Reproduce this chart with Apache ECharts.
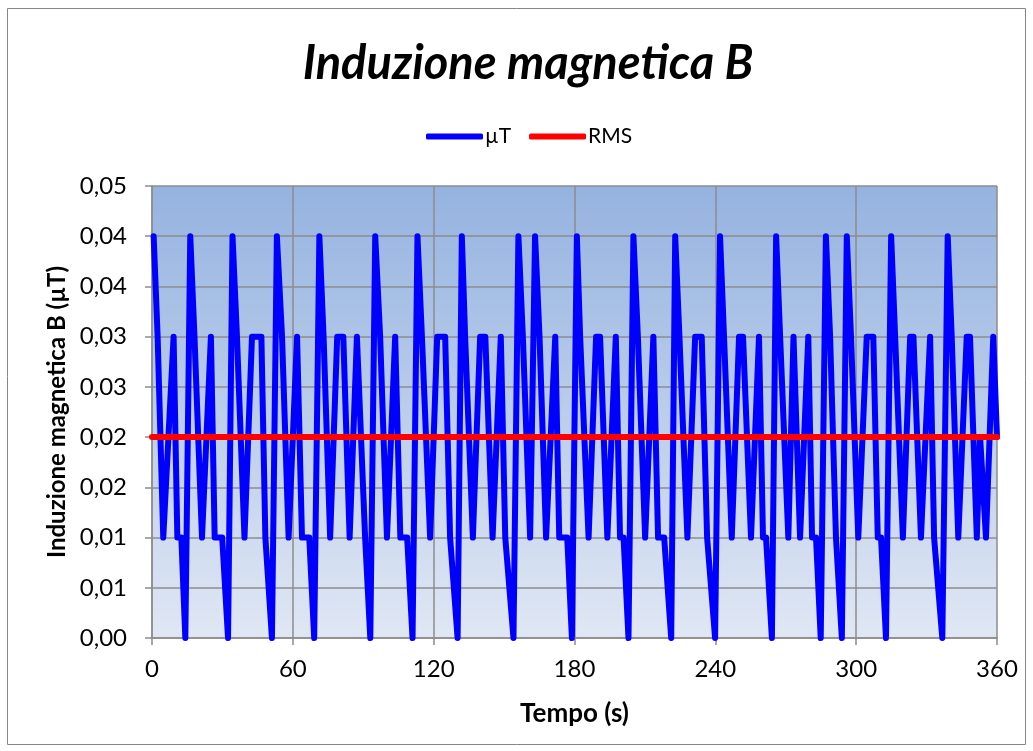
<!DOCTYPE html>
<html>
<head>
<meta charset="utf-8">
<script src="https://cdn.jsdelivr.net/npm/echarts@6/dist/echarts.min.js"></script>
<style>
html,body{margin:0;padding:0;background:#fff;}
#chart{width:1033px;height:751px;}
</style>
</head>
<body>
<div id="chart"></div>
<script>
// ---- data ----
const chartTitle = 'Induzione magnetica B';
const seriesNames = ['\u00b5T', 'RMS'];
const xTickLabels = ['0', '60', '120', '180', '240', '300', '360'];
const yTickLabels = ['0,00','0,01','0,01','0,02','0,02','0,03','0,03','0,04','0,04','0,05'];

// time (s) of each vertex of the blue trace
const times = [
  0.7, 2.4, 4.8, 9.2, 10.8, 12.5, 14.2, 16.3, 18.1, 21.3,
  25.1, 26.7, 29.9, 32.4, 34.3, 36.2, 39.4, 42.6, 46.6, 48.3,
  51.1, 53.2, 55.4, 58.2, 61.8, 63.9, 67.0, 69.1, 71.3, 73.1,
  75.9, 78.9, 81.5, 84.2, 87.3, 90.8, 93.0, 95.1, 97.2, 100.1,
  103.6, 105.8, 108.7, 111.0, 113.1, 115.0, 118.5, 121.5, 124.9, 127.0,
  130.2, 132.0, 133.4, 136.7, 139.8, 142.0, 145.1, 148.6, 150.5, 154.0,
  156.1, 158.0, 161.1, 163.2, 165.1, 167.9, 171.8, 173.5, 176.9, 178.9,
  181.0, 182.4, 186.0, 189.2, 190.9, 194.0, 197.6, 199.4, 200.9, 203.0,
  205.1, 207.0, 210.1, 213.6, 215.6, 218.2, 221.2, 222.9, 224.7, 228.1,
  231.4, 234.2, 236.5, 239.9, 242.0, 243.7, 247.0, 250.1, 251.8, 255.2,
  258.6, 260.3, 261.6, 264.1, 265.9, 267.6, 271.1, 273.3, 276.1, 279.6,
  281.2, 282.9, 284.9, 287.1, 288.9, 291.4, 293.9, 296.0, 297.8, 300.9,
  304.5, 307.3, 309.2, 310.6, 312.7, 314.9, 316.6, 319.9, 323.0, 324.4,
  327.6, 331.5, 333.2, 336.7, 339.0, 340.7, 343.5, 347.1, 348.5, 351.4,
  352.8, 355.3, 358.4, 360
];
// induction (µT) at each of those times
const microTesla = [
  0.04, 0.03, 0.01, 0.03, 0.01, 0.01, 0.00, 0.04, 0.03, 0.01,
  0.03, 0.01, 0.01, 0.00, 0.04, 0.03, 0.01, 0.03, 0.03, 0.01,
  0.00, 0.04, 0.03, 0.01, 0.03, 0.01, 0.01, 0.00, 0.04, 0.03,
  0.01, 0.03, 0.03, 0.01, 0.03, 0.01, 0.00, 0.04, 0.03, 0.01,
  0.03, 0.01, 0.01, 0.00, 0.04, 0.03, 0.01, 0.03, 0.03, 0.01,
  0.00, 0.04, 0.03, 0.01, 0.03, 0.03, 0.01, 0.03, 0.01, 0.00,
  0.04, 0.03, 0.01, 0.04, 0.03, 0.01, 0.03, 0.01, 0.01, 0.00,
  0.04, 0.03, 0.01, 0.03, 0.03, 0.01, 0.03, 0.01, 0.01, 0.00,
  0.04, 0.03, 0.01, 0.03, 0.01, 0.01, 0.00, 0.04, 0.03, 0.01,
  0.03, 0.03, 0.01, 0.00, 0.04, 0.03, 0.01, 0.03, 0.03, 0.01,
  0.03, 0.01, 0.01, 0.00, 0.04, 0.03, 0.01, 0.03, 0.01, 0.03,
  0.01, 0.01, 0.00, 0.04, 0.03, 0.01, 0.00, 0.04, 0.03, 0.01,
  0.03, 0.03, 0.01, 0.01, 0.00, 0.04, 0.03, 0.01, 0.03, 0.03,
  0.01, 0.03, 0.01, 0.00, 0.04, 0.03, 0.01, 0.03, 0.03, 0.01,
  0.02, 0.01, 0.03, 0.02
];
const rmsTimes = [0, 360];
const rmsValues = [0.02, 0.02];

// ---- chart ----
const FONT = 'Lato, "Open Sans", sans-serif';
const GRID_C = '#8C8C8C';
const chart = echarts.init(document.getElementById('chart'), null, {renderer: 'canvas'});

const blueData = times.map((t, i) => [t, microTesla[i]]);
const redData = rmsTimes.map((t, i) => [t, rmsValues[i]]);

chart.setOption({
  animation: false,
  backgroundColor: '#ffffff',
  graphic: [{
    type: 'rect',
    shape: {x: 7.5, y: 8.5, width: 1018, height: 736},
    style: {fill: 'none', stroke: '#868686', lineWidth: 1},
    silent: true, z: -10
  }],
  title: {
    text: chartTitle,
    left: 523, top: 35, textAlign: 'center',
    textStyle: {fontFamily: FONT, fontSize: 47, fontWeight: 'bold', fontStyle: 'italic', color: '#000'}
  },
  legend: {
    left: 421, top: 121,
    itemWidth: 57, itemHeight: 6, itemGap: 18,
    icon: 'roundRect',
    data: seriesNames,
    textStyle: {fontFamily: FONT, fontSize: 21, color: '#000', padding: [0, 0, 0, -3]}
  },
  grid: {
    left: 152, right: 36, top: 186, bottom: 113,
    show: true, borderWidth: 0,
    backgroundColor: {
      type: 'linear', x: 0, y: 0, x2: 0, y2: 1,
      colorStops: [
        {offset: 0, color: '#95B3E0'},
        {offset: 1, color: '#E0E7F4'}
      ]
    }
  },
  xAxis: {
    type: 'value', min: 0, max: 360, interval: 60,
    name: 'Tempo (s)', nameLocation: 'middle', nameGap: 63,
    nameTextStyle: {fontFamily: FONT, fontSize: 26, fontWeight: 'bold', color: '#000'},
    axisLine: {show: true, onZero: false, lineStyle: {color: GRID_C, width: 1.5}},
    axisTick: {show: true, length: 7, lineStyle: {color: GRID_C, width: 1.5}},
    axisLabel: {
      margin: 19, fontFamily: FONT, fontSize: 24, color: '#000',
      formatter: v => xTickLabels[Math.round(v / 60)]
    },
    splitLine: {show: true, lineStyle: {color: GRID_C, width: 1.5}}
  },
  yAxis: {
    type: 'value', min: 0, max: 0.045, interval: 0.005,
    name: 'Induzione magnetica B (\u00b5T)', nameLocation: 'middle', nameGap: 81,
    nameTextStyle: {fontFamily: FONT, fontSize: 24, fontWeight: 'bold', color: '#000'},
    axisLine: {show: true, lineStyle: {color: GRID_C, width: 1.5}},
    axisTick: {show: true, length: 7, lineStyle: {color: GRID_C, width: 1.5}},
    axisLabel: {
      margin: 25, fontFamily: FONT, fontSize: 24, color: '#000',
      formatter: v => yTickLabels[Math.round(v / 0.005)]
    },
    splitLine: {show: true, lineStyle: {color: GRID_C, width: 1.5}}
  },
  series: [
    {
      name: seriesNames[0], type: 'line', data: blueData,
      showSymbol: false, symbol: 'none', clip: false,
      color: '#0000FF',
      lineStyle: {color: '#0000FF', width: 6, cap: 'round', join: 'round'},
      z: 2
    },
    {
      name: seriesNames[1], type: 'line', data: redData,
      showSymbol: false, symbol: 'none', clip: false,
      color: '#FF0000',
      lineStyle: {color: '#FF0000', width: 6, cap: 'round', join: 'round'},
      z: 3
    }
  ]
});
</script>
</body>
</html>
